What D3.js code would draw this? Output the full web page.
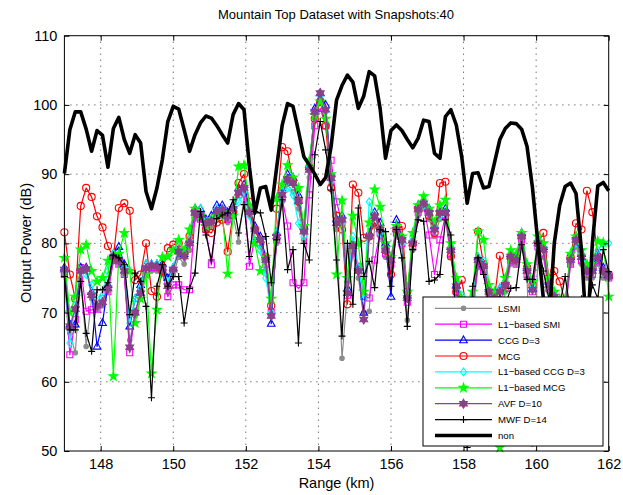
<!DOCTYPE html>
<html lang="en">
<head>
<meta charset="UTF-8">
<title>Mountain Top Dataset with Snapshots:40</title>
<style>
    body { margin: 0; background: #fff; }
    text { font-family: "Liberation Sans", Arial, Helvetica, sans-serif; fill: #000; }
</style>
</head>
<body>
<svg id="chart" width="623" height="495"></svg>
<script src="https://d3js.org/d3.v7.min.js"></script>
<script>
    // range grid: 147 km to 162 km in 0.15 km steps (101 cells)
    var rangeStart = 147, rangeStep = 0.15, rangeCount = 101;
    var xTicks = [148, 150, 152, 154, 156, 158, 160, 162];
    var yTicks = [50, 60, 70, 80, 90, 100, 110];

    var lsmi = [75.5, 67, 64.2, 75, 65.1, 72, 70.5, 71, 73, 77.5,
        77, 75.5, 66, 69.5, 72, 75.5, 76, 76, 75.5, 73,
        75.5, 78, 77, 79, 83.5, 83.5, 82, 82.5, 84, 84,
        83, 84, 80.2, 87, 84, 80, 79.5, 76.2, 70, 80,
        86, 88.5, 87.5, 85, 80.5, 89.5, 98, 100.5, 99, 88.5,
        82, 63.4, 73, 78.5, 75, 70, 70.2, 82.5, 81, 78,
        76.5, 81, 79.5, 68.9, 79, 84, 85, 83.5, 81, 83.5,
        83.5, 78, 73, 70, 69, 70, 76.5, 76, 72, 71,
        72, 73, 77, 77, 80, 75, 51, 79, 78, 73,
        71.5, 70, 70, 77, 79.5, 77, 75, 75, 77, 75, 75];
    var l1Smi = [75.5, 63.9, 69, 76.5, 70.2, 70.4, 70.5, 72, 73, 77.5,
        77, 75.5, 64.2, 70, 73, 76, 76.5, 76.5, 76, 72.3,
        74, 74, 73.3, 73.3, 84, 83.5, 82, 76.9, 84, 84.5,
        83.5, 84.5, 87, 87.5, 76.7, 81, 80, 77, 70, 80.5,
        86.5, 82.5, 74.3, 73.5, 74.3, 87, 97, 99.5, 97, 92,
        86, 83, 72.5, 79, 76.7, 72.3, 72.1, 77.6, 81.5, 78.5,
        77, 81.5, 80, 71.5, 79.5, 84.5, 85.5, 81.2, 75.5, 80.5,
        84, 78.5, 73, 70.5, 69.5, 70.5, 77, 76, 72.5, 71.5,
        72.5, 73.5, 77.5, 77, 80.5, 75.5, 73, 79.5, 78.5, 73.5,
        72, 70.5, 70.5, 77, 80, 77.5, 75.5, 75.5, 77.5, 75.5, 75];
    var ccg = [76.5, 68.3, 68.3, 76.5, 76.5, 73, 65.1, 68.5, 74, 78.5,
        79.5, 77, 68, 72, 74, 77, 77, 77, 77, 75,
        76.5, 79, 78.5, 80.5, 85, 85, 83.5, 84, 85.5, 85.5,
        84.5, 85.5, 88, 88.5, 85, 82.5, 81, 78, 68.4, 81.5,
        88, 90, 89.5, 87, 82.5, 91, 99.5, 101.7, 100, 90,
        83.5, 84, 73.5, 80, 76.5, 70, 81.5, 84.5, 83, 80,
        72.3, 83.4, 81, 72.5, 80.5, 85.5, 86, 85, 82.5, 85,
        85, 79.5, 74, 71.5, 70.5, 71.5, 78, 77, 73.5, 72.5,
        73.5, 74.5, 78.5, 78, 81.5, 76.5, 73.5, 80.5, 79.5, 74.5,
        72.5, 71.5, 71.5, 78, 81, 78.5, 76.5, 76.5, 78.5, 76.5, 75.5];
    var mcg = [81.6, 75.5, 72, 85.4, 88, 86.7, 83.9, 82.3, 79.6, 78,
        85.1, 85.8, 84.7, 74.7, 75.5, 80, 73.1, 72.3, 76, 79.3,
        79.8, 80, 78.6, 81, 84.6, 84, 82, 81.5, 83, 83.4,
        78.8, 84.4, 88.7, 90, 86, 82, 80, 78, 71, 85,
        93.9, 93.3, 89, 86, 82, 91, 98, 100.5, 97, 88,
        84, 82, 71.2, 88.5, 87.3, 80.8, 81, 83, 82, 79,
        75.5, 82, 82.5, 73, 80, 85, 85.5, 84, 81.5, 88.7,
        88.9, 78.1, 73, 74.7, 70, 71, 81.7, 77, 73, 72,
        78.2, 74, 78, 78, 81, 76.5, 74, 80, 81.5, 75,
        76, 74.5, 71.5, 78, 82.9, 82, 87.6, 84.5, 78.1, 76, 75.5];
    var l1Ccg = [76, 65.6, 71, 76, 75.5, 74, 72, 72.5, 76, 78.5,
        78, 76.5, 68.5, 72, 73.5, 77, 77, 77, 76.5, 74.5,
        76.5, 79.5, 79, 80.5, 84.5, 85, 83, 83.5, 85, 85,
        84, 85, 86, 87.5, 84, 80.5, 79, 75, 70, 81.5,
        87.5, 88, 87, 82.9, 81, 91, 99, 101.2, 99, 89,
        83, 83, 73, 81, 76.5, 72, 86, 84, 81.5, 79.5,
        78, 82, 80, 72.5, 80.5, 85, 85.5, 84.5, 82.5, 84,
        84.5, 79.5, 74.5, 72.5, 71, 72, 78, 77.5, 73.5, 72.5,
        73.5, 74.5, 78.5, 78, 81.5, 76.5, 74, 80.5, 79.5, 74.5,
        73, 71.5, 71.5, 78, 80, 78.5, 76.5, 77, 79, 80, 80];
    var l1Mcg = [77.9, 70, 72.3, 79.1, 79.8, 76, 74.5, 75, 77.5, 60.8,
        78.5, 81.5, 76, 68.5, 72, 75.5, 61.2, 70.4, 78, 78.1,
        79, 80.5, 79, 82, 85, 84, 82.5, 83.5, 84, 84.5,
        75.6, 84, 91.1, 91.3, 85.5, 80, 76, 78, 72, 86.5,
        88.5, 91.3, 89.5, 88, 82.5, 92, 98.5, 100.5, 98, 90,
        75.5, 86.2, 75, 84, 80, 73, 83, 87.8, 85.3, 80,
        78, 82.5, 81, 73, 81.5, 85.5, 86.8, 85, 83, 85.5,
        86.3, 80, 75, 72, 71, 73, 81.7, 80.5, 74, 73,
        50.5, 75, 79, 78.5, 81.5, 77, 74.5, 81, 80, 75,
        73, 72, 72, 78.5, 81, 79, 77, 77, 80.3, 80.1, 72.3];
    var avf = [76.2, 68, 70.5, 76, 76.3, 72.5, 71, 71.5, 73.5, 78,
        77.5, 76, 65, 70, 72.8, 76.4, 76.8, 76.7, 76.5, 73.8,
        76.2, 78.8, 78.1, 80, 84.4, 84.1, 82.9, 83.2, 84.6, 84.9,
        83.9, 85, 87.3, 88, 84.5, 82, 80.5, 77.6, 69.5, 81,
        87, 89.2, 88.7, 86.1, 81.7, 90.6, 99, 101.7, 99.3, 89.4,
        82.9, 83.4, 72.8, 79.6, 76, 69, 81, 83.9, 82, 79,
        77.6, 82, 80.5, 72.1, 80, 84.9, 85.8, 84.4, 82, 84.4,
        84.4, 79, 73.8, 71, 70, 71, 77.6, 76.7, 73, 72,
        73, 74, 78.1, 77.6, 81, 76, 73.3, 80, 79.1, 74,
        72.3, 71, 71, 77.6, 80.5, 78, 76, 76, 78, 76, 75.2];
    var mwf = [75.2, 67.5, 67.5, 74.5, 67, 64.4, 73.3, 73.3, 74.3, 78.3,
        77.9, 76.9, 69.7, 75.7, 74.5, 70.9, 57.7, 73.8, 76.9, 73.8,
        75.2, 75.2, 68.5, 73.5, 75.7, 84.6, 81.2, 77.6, 83.6, 84.1,
        84.4, 86.3, 81.5, 85.6, 78.1, 84.6, 84.4, 81, 74.3, 80.5,
        86.3, 76.2, 79.1, 65.6, 80, 77.6, 92.8, 97.6, 93.5, 87.7,
        77.6, 66.6, 80, 71.2, 85.1, 75.2, 77.4, 73.6, 82, 81.7,
        73.8, 82, 77.9, 68, 79.1, 83.4, 83.2, 74.5, 74.7, 75.5,
        83.4, 81.2, 68, 62, 50.5, 73.8, 77.9, 75.5, 71, 70,
        72, 71, 73.5, 73.6, 79.8, 74.8, 74.8, 80, 76, 72,
        69, 71, 75.2, 70, 68, 72, 70, 74, 72, 79.1, 75.9];
    var non = [90.1, 96.4, 99, 99, 96.5, 93.3, 96.3, 95.6, 91, 96.6,
        98.2, 95, 93, 95.7, 94.5, 87.5, 85, 88, 92.1, 97.6,
        99.8, 99.4, 96.4, 93.3, 95.7, 97.4, 98.4, 98.1, 97, 95.7,
        94.5, 98.6, 100.2, 99.3, 91, 84.4, 88, 88.2, 84.8, 91,
        97, 100.2, 99.8, 96.2, 92.5, 91.3, 90, 88.5, 89.5, 94,
        100.7, 102.8, 104.3, 103.3, 99.5, 101.3, 104.8, 104.2, 99.5, 92.3,
        96.3, 97.1, 96.3, 95, 93.8, 95.2, 97.8, 97.6, 93, 92.3,
        98.3, 99.3, 97.1, 92.5, 85.8, 90.1, 90.2, 88, 88.2, 91.6,
        95, 96.6, 97.4, 97.3, 96.5, 94, 88, 80, 72, 68,
        80, 85.5, 88.2, 88.7, 87.2, 79, 66, 80, 88.3, 88.8, 87.6];

    var rangeKm = d3.range(rangeCount).map(function(i) { return rangeStart + i * rangeStep; });

    // custom marker shapes (MATLAB-like)
    function hexagram(r) {
        var pts = [];
        for (var k = 0; k < 12; k++) {
            var a = -Math.PI / 2 + k * Math.PI / 6;
            var rr = (k % 2 === 0) ? r : r * 0.58;
            pts.push([rr * Math.cos(a), rr * Math.sin(a)]);
        }
        return "M" + pts.join("L") + "Z";
    }
    var markers = {
        dot: d3.symbol().type(d3.symbolCircle).size(16)(),
        square: "M-3,-3H3V3H-3Z",
        triangle: "M0,-4.2L3.8,2.6H-3.8Z",
        circle: d3.symbol().type(d3.symbolCircle).size(40)(),
        diamond: "M0,-4L3,0L0,4L-3,0Z",
        star: d3.symbol().type(d3.symbolStar).size(24)(),
        hexagram: hexagram(4.5),
        plus: "M-3.5,0H3.5M0,-3.5V3.5"
    };

    var series = [
        { name: "LSMI", data: lsmi, color: "#8c8c8c", marker: "dot", fill: true },
        { name: "L1\u2212based SMI", data: l1Smi, color: "#ff00ff", marker: "square", fill: false },
        { name: "CCG D=3", data: ccg, color: "#0000ff", marker: "triangle", fill: false },
        { name: "MCG", data: mcg, color: "#ff0000", marker: "circle", fill: false },
        { name: "L1\u2212based CCG D=3", data: l1Ccg, color: "#00ffff", marker: "diamond", fill: false },
        { name: "L1\u2212based MCG", data: l1Mcg, color: "#00ff00", marker: "star", fill: true },
        { name: "AVF D=10", data: avf, color: "#8b408b", marker: "hexagram", fill: true },
        { name: "MWF D=14", data: mwf, color: "#000000", marker: "plus", fill: false },
        { name: "non", data: non, color: "#000000", marker: null, fill: false, width: 3.6 }
    ];

    var svg = d3.select("#chart");
    var pLeft = 64.4, pRight = 608.7, pTop = 35.7, pBottom = 451;

    var x = d3.scaleLinear().domain([147, 162]).range([pLeft, pRight]);
    var y = d3.scaleLinear().domain([50, 110]).range([pBottom, pTop]);

    // dotted grid
    svg.append("g").selectAll("line")
        .data(xTicks.filter(function(d) { return d < 162; }))
        .enter().append("line")
        .attr("x1", function(d) { return x(d); }).attr("x2", function(d) { return x(d); })
        .attr("y1", pTop).attr("y2", pBottom)
        .attr("stroke", "#000").attr("stroke-width", 0.8).attr("stroke-dasharray", "1,5");
    svg.append("g").selectAll("line")
        .data(yTicks.filter(function(d) { return d > 50 && d < 110; }))
        .enter().append("line")
        .attr("x1", pLeft).attr("x2", pRight)
        .attr("y1", function(d) { return y(d); }).attr("y2", function(d) { return y(d); })
        .attr("stroke", "#000").attr("stroke-width", 0.8).attr("stroke-dasharray", "1,5");

    // series
    var line = d3.line()
        .x(function(d, i) { return x(rangeKm[i]); })
        .y(function(d) { return y(d); });

    series.forEach(function(s) {
        var g = svg.append("g");
        g.append("path")
            .attr("d", line(s.data))
            .attr("fill", "none")
            .attr("stroke", s.color)
            .attr("stroke-width", s.width || 1.2)
            .attr("stroke-linejoin", "round");
        if (s.marker) {
            g.selectAll("path.m")
                .data(s.data)
                .enter().append("path")
                .attr("class", "m")
                .attr("d", markers[s.marker])
                .attr("transform", function(d, i) { return "translate(" + x(rangeKm[i]) + "," + y(d) + ")"; })
                .attr("fill", s.fill ? s.color : "none")
                .attr("stroke", s.color)
                .attr("stroke-width", 1.1);
        }
    });

    // axis box and ticks
    svg.append("rect")
        .attr("x", pLeft).attr("y", pTop)
        .attr("width", pRight - pLeft).attr("height", pBottom - pTop)
        .attr("fill", "none").attr("stroke", "#000").attr("stroke-width", 1);

    svg.append("g").attr("transform", "translate(0," + pBottom + ")")
        .call(d3.axisBottom(x).tickValues(xTicks).tickSize(-5).tickPadding(8));
    svg.append("g").attr("transform", "translate(0," + pTop + ")")
        .call(d3.axisTop(x).tickValues(xTicks).tickSize(-5).tickFormat(""));
    svg.append("g").attr("transform", "translate(" + pLeft + ",0)")
        .call(d3.axisLeft(y).tickValues(yTicks).tickSize(-5).tickPadding(7));
    svg.append("g").attr("transform", "translate(" + pRight + ",0)")
        .call(d3.axisRight(y).tickValues(yTicks).tickSize(-5).tickFormat(""));
    svg.selectAll(".domain").remove();
    svg.selectAll(".tick line").attr("stroke", "#000");
    svg.selectAll(".tick text").attr("font-size", 14.5).attr("font-family", null);

    // titles
    svg.append("text").attr("x", 336).attr("y", 19)
        .attr("text-anchor", "middle").attr("font-size", 13)
        .text("Mountain Top Dataset with Snapshots:40");
    svg.append("text").attr("x", 336.5).attr("y", 488)
        .attr("text-anchor", "middle").attr("font-size", 14.5)
        .text("Range (km)");
    svg.append("text").attr("transform", "translate(31,243) rotate(-90)")
        .attr("text-anchor", "middle").attr("font-size", 14.5)
        .text("Output Power (dB)");

    // legend
    var lg = svg.append("g");
    lg.append("rect").attr("x", 423).attr("y", 297).attr("width", 180).attr("height", 149)
        .attr("fill", "#fff").attr("stroke", "#000").attr("stroke-width", 1);
    series.forEach(function(s, k) {
        var ly = 308.3 + k * 15.9;
        lg.append("line").attr("x1", 435).attr("x2", 492).attr("y1", ly).attr("y2", ly)
            .attr("stroke", s.color).attr("stroke-width", s.width || 1.2);
        if (s.marker) {
            lg.append("path").attr("d", markers[s.marker])
                .attr("transform", "translate(463.5," + ly + ")")
                .attr("fill", s.fill ? s.color : "none")
                .attr("stroke", s.color).attr("stroke-width", 1.1);
        }
        lg.append("text").attr("x", 498).attr("y", ly + 3.5).attr("font-size", 9.6).text(s.name);
    });
</script>
</body>
</html>
